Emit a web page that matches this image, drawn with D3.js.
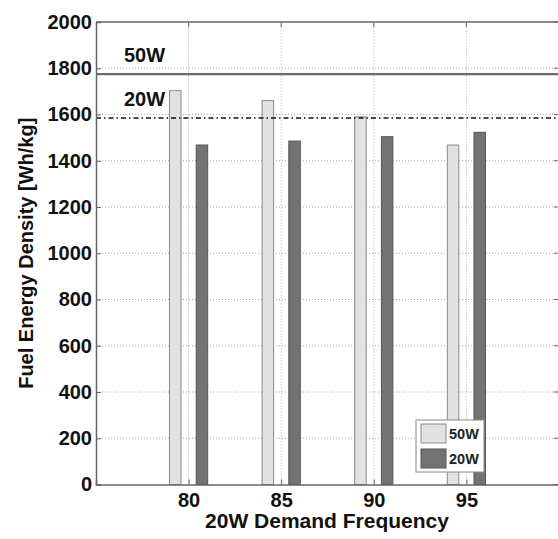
<!DOCTYPE html>
<html>
<head>
<meta charset="utf-8">
<script src="https://cdn.jsdelivr.net/npm/d3@7"></script>
<style>
  html, body { margin: 0; padding: 0; background: #fff; }
  svg { display: block; font-family: 'Liberation Sans', Arial, sans-serif; }
</style>
</head>
<body>
<div id="chart"></div>
<script>
// chart data
const frequencies = [80, 85, 90, 95]
const fuel50W = [1703, 1660, 1590, 1468]
const fuel20W = [1468, 1485, 1504, 1523]
const refLines = [
  { name: '50W', value: 1775 },
  { name: '20W', value: 1585 }
]
const yTicks = [0, 200, 400, 600, 800, 1000, 1200, 1400, 1600, 1800, 2000]
const xTicks = [80, 85, 90, 95]
const seriesNames = ['50W', '20W']

const width = 558
const height = 539
const margin = { top: 22, right: -1, bottom: 54.5, left: 96 }

const svg = d3.select('#chart').append('svg')
  .attr('width', width)
  .attr('height', height)

const x = d3.scaleLinear().domain([75, 100]).range([margin.left, width - margin.right])
const y = d3.scaleLinear().domain([0, 2000]).range([height - margin.bottom, margin.top])

const colors = { '50W': '#e2e2e2', '20W': '#737373' }
const strokes = { '50W': '#8a8a8a', '20W': '#555' }
const font = "'Liberation Sans', Arial, sans-serif"

// grid
const grid = svg.append('g')
grid.selectAll('line.gy').data(yTicks.slice(1, -1)).enter().append('line')
  .attr('x1', x(75)).attr('x2', x(100))
  .attr('y1', d => y(d)).attr('y2', d => y(d))
  .attr('stroke', '#aaa').attr('stroke-width', 1).attr('stroke-dasharray', '1,2')
grid.selectAll('line.gx').data(xTicks).enter().append('line')
  .attr('x1', d => x(d)).attr('x2', d => x(d))
  .attr('y1', y(0)).attr('y2', y(2000))
  .attr('stroke', '#aaa').attr('stroke-width', 1).attr('stroke-dasharray', '1,2')

// bars
const offset = 0.72
const barW = x(75.62) - x(75)
const bars = svg.append('g')
bars.selectAll('rect.b50').data(frequencies).enter().append('rect')
  .attr('x', (d, i) => x(d - offset) - barW / 2)
  .attr('y', (d, i) => y(fuel50W[i]))
  .attr('width', barW)
  .attr('height', (d, i) => y(0) - y(fuel50W[i]))
  .attr('fill', colors['50W']).attr('stroke', strokes['50W']).attr('stroke-width', 1)
bars.selectAll('rect.b20').data(frequencies).enter().append('rect')
  .attr('x', (d, i) => x(d + offset) - barW / 2)
  .attr('y', (d, i) => y(fuel20W[i]))
  .attr('width', barW)
  .attr('height', (d, i) => y(0) - y(fuel20W[i]))
  .attr('fill', colors['20W']).attr('stroke', strokes['20W']).attr('stroke-width', 1)

// reference lines
svg.append('line')
  .attr('x1', x(75)).attr('x2', x(100))
  .attr('y1', y(refLines[0].value)).attr('y2', y(refLines[0].value))
  .attr('stroke', '#6a6a6a').attr('stroke-width', 2.2)
svg.append('line')
  .attr('x1', x(75)).attr('x2', x(100))
  .attr('y1', y(refLines[1].value)).attr('y2', y(refLines[1].value))
  .attr('stroke', '#111').attr('stroke-width', 1.6).attr('stroke-dasharray', '5,3,1.5,3')

svg.selectAll('text.ref').data(refLines).enter().append('text')
  .attr('x', 124)
  .attr('y', d => y(d.value) - 12)
  .attr('font-size', 20).attr('font-weight', 'bold').attr('fill', '#111')
  .text(d => d.name)

// axes frame
const yAxis = d3.axisLeft(y).tickValues(yTicks).tickSize(-5).tickPadding(4).tickFormat(d3.format('d'))
const xAxis = d3.axisBottom(x).tickValues(xTicks).tickSize(-5).tickPadding(8).tickFormat(d3.format('d'))

const gy = svg.append('g').attr('transform', `translate(${x(75)},0)`).call(yAxis)
gy.select('.domain').attr('stroke', '#666').attr('stroke-width', 1.5)
gy.selectAll('.tick line').attr('stroke', '#666')
gy.selectAll('.tick text').attr('font-size', 20).attr('font-weight', 'bold').attr('fill', '#111')
  .attr('font-family', font)

const gx = svg.append('g').attr('transform', `translate(0,${y(0)})`).call(xAxis)
gx.select('.domain').attr('stroke', '#666').attr('stroke-width', 1.5)
gx.selectAll('.tick line').attr('stroke', '#666')
gx.selectAll('.tick text').attr('font-size', 20).attr('font-weight', 'bold').attr('fill', '#111')
  .attr('font-family', font)

// top border and inward ticks
svg.append('line')
  .attr('x1', x(75)).attr('x2', x(100)).attr('y1', y(2000)).attr('y2', y(2000))
  .attr('stroke', '#666').attr('stroke-width', 1.5)
svg.selectAll('line.tt').data(xTicks).enter().append('line')
  .attr('x1', d => x(d)).attr('x2', d => x(d))
  .attr('y1', y(2000)).attr('y2', y(2000) + 5)
  .attr('stroke', '#666')
svg.selectAll('line.rt').data(yTicks).enter().append('line')
  .attr('x1', x(100) - 5).attr('x2', x(100))
  .attr('y1', d => y(d)).attr('y2', d => y(d))
  .attr('stroke', '#666')

// axis titles
svg.append('text')
  .attr('x', 327).attr('y', 528)
  .attr('text-anchor', 'middle')
  .attr('font-size', 21).attr('font-weight', 'bold').attr('fill', '#111')
  .text('20W Demand Frequency')
svg.append('text')
  .attr('transform', `translate(33,${(y(0) + y(2000)) / 2}) rotate(-90)`)
  .attr('text-anchor', 'middle')
  .attr('font-size', 20).attr('font-weight', 'bold').attr('fill', '#111')
  .text('Fuel Energy Density [Wh/kg]')

// legend
const legend = svg.append('g').attr('transform', 'translate(416,420)')
legend.append('rect')
  .attr('width', 68).attr('height', 52)
  .attr('fill', '#fff').attr('stroke', '#888').attr('stroke-width', 1)
legend.selectAll('rect.sw').data(seriesNames).enter().append('rect')
  .attr('x', 5).attr('y', (d, i) => 4 + i * 25)
  .attr('width', 25).attr('height', 19)
  .attr('fill', d => colors[d]).attr('stroke', d => strokes[d])
legend.selectAll('text').data(seriesNames).enter().append('text')
  .attr('x', 33).attr('y', (d, i) => 19 + i * 25)
  .attr('font-size', 14.5).attr('font-weight', 'bold').attr('fill', '#222')
  .text(d => d)
</script>
</body>
</html>
